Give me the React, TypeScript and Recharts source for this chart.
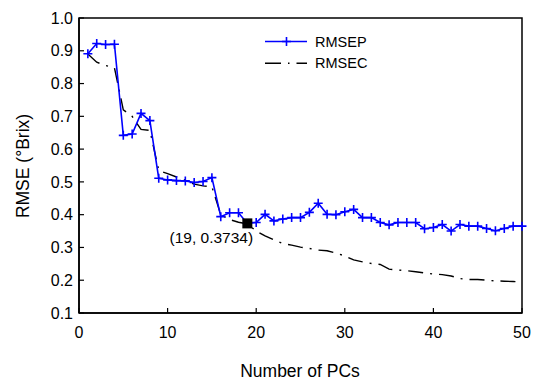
import { LineChart, Line, XAxis, YAxis, ReferenceArea, ReferenceDot } from 'recharts';

document.body.style.margin = '0';

const pcs = [
  1, 2, 3, 4, 5, 6, 7, 8, 9, 10, 11, 12, 13, 14, 15, 16, 17, 18, 19, 20, 21, 22, 23, 24, 25,
  26, 27, 28, 29, 30, 31, 32, 33, 34, 35, 36, 37, 38, 39, 40, 41, 42, 43, 44, 45, 46, 47, 48, 49, 50,
];

const rmsep = [
  0.891, 0.922, 0.919, 0.92, 0.642, 0.646, 0.709, 0.687, 0.511, 0.506, 0.504, 0.503, 0.498, 0.501, 0.513,
  0.394, 0.406, 0.406, 0.3734, 0.376, 0.401, 0.381, 0.387, 0.391, 0.391, 0.407, 0.435, 0.401, 0.4, 0.409,
  0.416, 0.391, 0.391, 0.376, 0.369, 0.376, 0.376, 0.376, 0.357, 0.361, 0.37, 0.35, 0.37, 0.365, 0.365,
  0.358, 0.351, 0.358, 0.365, 0.365,
];

const rmsec = [
  0.89, 0.865, 0.855, 0.848, 0.72, 0.7, 0.66, 0.657, 0.535, 0.525, 0.515, 0.505, 0.493, 0.488, 0.485,
  0.4, 0.385, 0.377, 0.372, 0.35, 0.335, 0.323, 0.312, 0.307, 0.301, 0.297, 0.292, 0.29, 0.283, 0.274,
  0.262, 0.256, 0.251, 0.248, 0.234, 0.231, 0.229, 0.226, 0.222, 0.219, 0.217, 0.213, 0.205, 0.202, 0.202,
  0.2, 0.198, 0.197, 0.196, 0.195,
];

const xTicks = [0, 10, 20, 30, 40, 50];
const yTicks = [0.1, 0.2, 0.3, 0.4, 0.5, 0.6, 0.7, 0.8, 0.9, 1.0];

const best = { pc: 19, value: 0.3734 };

const data = pcs.map((pc, i) => ({ pc, rmsep: rmsep[i], rmsec: rmsec[i] }));

const FONT = '"Liberation Sans", Arial, Helvetica, sans-serif';
const BLUE = '#0000ff';
const DASHDOT = '15 7 2 7';

const PlusDot = (props: any) => {
  const { cx, cy, index } = props;
  if (cx == null || cy == null) return null;
  return (
    <path
      key={`p-${index}`}
      d={`M${cx - 4.5},${cy}h9M${cx},${cy - 4.5}v9`}
      stroke={BLUE}
      strokeWidth={1.6}
      fill="none"
    />
  );
};

export default function App() {
  return (
    <div style={{ position: 'relative', width: 535, height: 380, background: '#fff', fontFamily: FONT }}>
      <LineChart width={535} height={380} data={data} margin={{ top: 18, right: 13, left: 0, bottom: 0 }}>
        <XAxis
          dataKey="pc"
          type="number"
          domain={[0, 50]}
          ticks={xTicks}
          height={67}
          tickSize={-5}
          tickMargin={19}
          axisLine={{ stroke: '#000', strokeWidth: 1.5 }}
          tickLine={{ stroke: '#000', strokeWidth: 1.2 }}
          tick={{ fill: '#000', fontSize: 16, fontFamily: FONT }}
          label={{
            content: () => (
              <text x={300} y={377} textAnchor="middle" fill="#000" fontSize={17.5} fontFamily={FONT}>
                Number of PCs
              </text>
            ),
          }}
        />
        <YAxis
          type="number"
          domain={[0.1, 1]}
          ticks={yTicks}
          width={79}
          tickSize={-5}
          tickMargin={11}
          tickFormatter={(v: number) => v.toFixed(1)}
          axisLine={{ stroke: '#000', strokeWidth: 1.5 }}
          tickLine={{ stroke: '#000', strokeWidth: 1.2 }}
          tick={{ fill: '#000', fontSize: 16, fontFamily: FONT }}
          label={{
            content: () => (
              <text
                x={29}
                y={166}
                transform="rotate(-90 29 166)"
                textAnchor="middle"
                fill="#000"
                fontSize={17.5}
                fontFamily={FONT}
              >
                RMSE (°Brix)
              </text>
            ),
          }}
        />
        <ReferenceArea x1={0} x2={50} y1={0.1} y2={1} fill="none" stroke="#000" strokeWidth={1.5} />
        <Line
          dataKey="rmsec"
          stroke="#000"
          strokeWidth={1.4}
          strokeDasharray={DASHDOT}
          dot={false}
          isAnimationActive={false}
        />
        <Line
          dataKey="rmsep"
          stroke={BLUE}
          strokeWidth={1.6}
          dot={<PlusDot />}
          isAnimationActive={false}
        />
        <ReferenceDot
          x={best.pc}
          y={best.value}
          r={5}
          shape={(p: any) => <rect x={p.cx - 5} y={p.cy - 5} width={10} height={10} fill="#000" />}
          label={{
            content: (p: any) => {
              const vb = p.viewBox || {};
              const cx = (vb.x ?? 0) + (vb.width ?? 0) / 2;
              const cy = (vb.y ?? 0) + (vb.height ?? 0) / 2;
              return (
                <text x={cx - 36} y={cy + 19.5} textAnchor="middle" fill="#000" fontSize={15.5} fontFamily={FONT}>
                  {`(${best.pc}, ${best.value})`}
                </text>
              );
            },
          }}
        />
      </LineChart>
      <svg width={535} height={380} style={{ position: 'absolute', left: 0, top: 0, pointerEvents: 'none' }}>
        <line x1={265} y1={41.5} x2={307} y2={41.5} stroke={BLUE} strokeWidth={1.6} />
        <path d="M282,41.5h9M286.5,37v9" stroke={BLUE} strokeWidth={1.6} />
        <text x={315} y={46.5} fontSize={14.5} fontFamily={FONT} fill="#000">
          RMSEP
        </text>
        <line x1={265} y1={63.3} x2={307} y2={63.3} stroke="#000" strokeWidth={1.4} strokeDasharray="16 7 1.5 7" />
        <text x={315} y={68.3} fontSize={14.5} fontFamily={FONT} fill="#000">
          RMSEC
        </text>
      </svg>
    </div>
  );
}
